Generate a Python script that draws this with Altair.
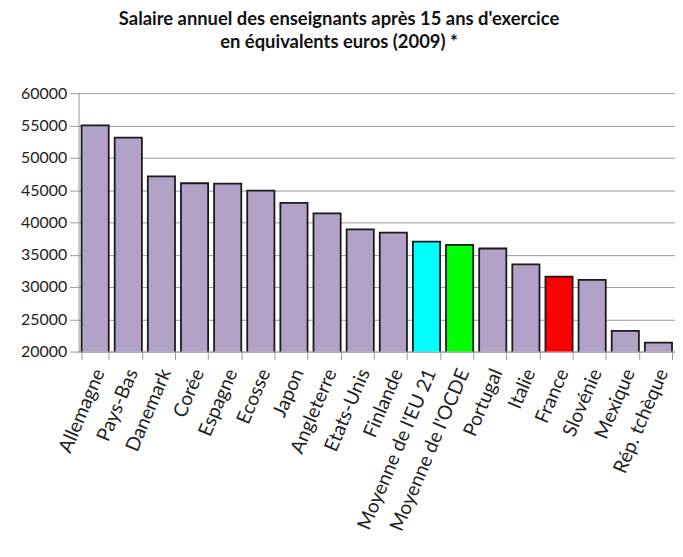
import altair as alt
import pandas as pd

categories = ["Allemagne", "Pays-Bas", "Danemark", "Corée", "Espagne", "Ecosse",
              "Japon", "Angleterre", "Etats-Unis", "Finlande", "Moyenne de l'EU 21",
              "Moyenne de l'OCDE", "Portugal", "Italie", "France", "Slovénie",
              "Mexique", "Rép. tchèque"]
values = [55000, 53100, 47100, 46050, 46000, 44900, 43000, 41400, 38900, 38400,
          37000, 36500, 35950, 33500, 31600, 31100, 23200, 21400]
bar_colors = ["#B3A2C7"] * 10 + ["#00FFFF", "#00FF00", "#B3A2C7", "#B3A2C7",
                                  "#FF0000", "#B3A2C7", "#B3A2C7", "#B3A2C7"]
y_ticks = [20000, 25000, 30000, 35000, 40000, 45000, 50000, 55000, 60000]

df = pd.DataFrame({"pays": categories, "salaire": values, "couleur": bar_colors})

font = "Lato"

chart = alt.Chart(df).mark_bar(stroke="#1a1a1a", strokeWidth=1.8, clip=True).encode(
    x=alt.X("pays:N", sort=categories, title=None,
            scale=alt.Scale(paddingInner=0.18, paddingOuter=0.09),
            axis=alt.Axis(labelAngle=-67, labelAlign="right", labelBaseline="middle",
                          labelFontSize=19.5, labelFont=font, labelColor="#222",
                          labelPadding=10, labelOffset=4, tickBand="extent", tickSize=8,
                          tickColor="#999", domainColor="#999", grid=False,
                          labelLimit=300)),
    y=alt.Y("salaire:Q", title=None,
            scale=alt.Scale(domain=[20000, 60000], nice=False, zero=False),
            axis=alt.Axis(values=y_ticks, format="d", labelFontSize=16, labelFont=font,
                          labelColor="#222", tickSize=9, tickColor="#999",
                          domainColor="#999", gridColor="#999", gridWidth=1,
                          labelPadding=3)),
    color=alt.Color("couleur:N", scale=None),
).properties(
    width=600, height=260,
    title=alt.TitleParams(
        text=["Salaire annuel  des enseignants après 15 ans d'exercice",
              "en équivalents euros (2009) *"],
        fontSize=18.5, font=font, fontWeight="bold", color="#111",
        anchor="middle", offset=34, lineHeight=23, dx=-38),
    autosize=alt.AutoSizeParams(type="none"),
    padding={"left": 71, "top": 84, "right": 0, "bottom": 200},
).configure_view(stroke=None)

chart.save("out.html", embed_options={"renderer": "svg", "actions": False})
